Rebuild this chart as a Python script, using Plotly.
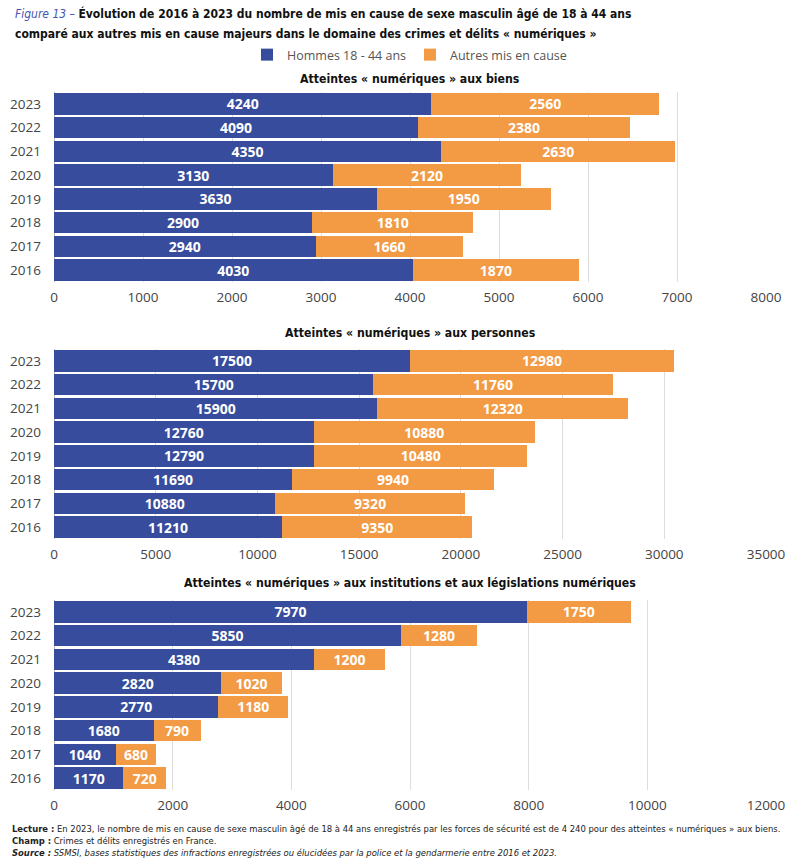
import plotly.graph_objects as go

years = ["2016", "2017", "2018", "2019", "2020", "2021", "2022", "2023"]

biens_hommes = [4030, 2940, 2900, 3630, 3130, 4350, 4090, 4240]
biens_autres = [1870, 1660, 1810, 1950, 2120, 2630, 2380, 2560]

personnes_hommes = [11210, 10880, 11690, 12790, 12760, 15900, 15700, 17500]
personnes_autres = [9350, 9320, 9940, 10480, 10880, 12320, 11760, 12980]

instit_hommes = [1170, 1040, 1680, 2770, 2820, 4380, 5850, 7970]
instit_autres = [720, 680, 790, 1180, 1020, 1200, 1280, 1750]

panel_titles = [
    "Atteintes « numériques » aux biens",
    "Atteintes « numériques » aux personnes",
    "Atteintes « numériques » aux institutions et aux législations numériques",
]
x_ranges = [[0, 8000], [0, 35000], [0, 12000]]
x_dticks = [1000, 5000, 2000]

BLUE = "#374C9C"
ORANGE = "#F39A44"
FONT = "Open Sans"
COND = "DejaVu Sans Condensed, Roboto, sans-serif"

H = 866
def py(px):
    return 1 - px / H

domains = [(282, 92), (539, 349), (790, 600)]
title_y = [79, 333, 583]

fig = go.Figure()
panels = [
    (biens_hommes, biens_autres),
    (personnes_hommes, personnes_autres),
    (instit_hommes, instit_autres),
]
for i, (h, a) in enumerate(panels):
    xa = "x" if i == 0 else f"x{i+1}"
    ya = "y" if i == 0 else f"y{i+1}"
    for vals, name, col, grp in [(h, "Hommes 18 - 44 ans", BLUE, "h"),
                                 (a, "Autres mis en cause", ORANGE, "a")]:
        fig.add_trace(go.Bar(
            y=years, x=vals, orientation="h", name=name,
            marker=dict(color=col, line=dict(width=0)),
            texttemplate="<b>%{x:d}</b>", textposition="inside",
            insidetextanchor="middle", constraintext="none",
            textfont=dict(color="white", size=14, family=FONT),
            xaxis=xa, yaxis=ya, showlegend=(i == 0), legendgroup=grp,
            hoverinfo="skip",
        ))

layout = dict(
    width=797, height=H, barmode="stack", bargap=0.1,
    paper_bgcolor="white", plot_bgcolor="white",
    margin=dict(l=54, r=31, t=0, b=0),
    font=dict(family=FONT, color="#444444"),
    legend=dict(orientation="h", x=0.5, xanchor="center", y=py(55), yanchor="middle",
                font=dict(size=12.5, color="#555555", family=FONT),
                tracegroupgap=0, itemwidth=30, entrywidth=118),
)
for i in range(3):
    sfx = "" if i == 0 else str(i + 1)
    b, t = domains[i]
    layout[f"xaxis{sfx}"] = dict(
        domain=[0, 1], anchor=f"y{sfx}", range=x_ranges[i], dtick=x_dticks[i],
        tickformat="d", automargin=False, ticklabelstandoff=5,
        showgrid=True, gridcolor="#DDDDDD", gridwidth=1, zeroline=True,
        zerolinecolor="#BBBBBB", zerolinewidth=1,
        tickfont=dict(size=13.5, color="#444444"), ticks="", showline=False,
    )
    layout[f"yaxis{sfx}"] = dict(
        domain=[py(b), py(t)], anchor=f"x{sfx}", type="category",
        categoryorder="array", categoryarray=years, automargin=False,
        tickfont=dict(size=13.5, color="#444444"), ticks="", ticklabelstandoff=12,
    )
fig.update_layout(**layout)

for i in range(3):
    fig.add_annotation(
        text=f"<b>{panel_titles[i]}</b>", xref="paper", yref="paper",
        x=0.5, y=py(title_y[i]), xanchor="center", yanchor="middle",
        showarrow=False, font=dict(size=12.2, color="#111111", family=COND),
    )

title_lines = [
    "<i><span style='color:#4A57B0'>Figure 13 –</span></i> <b>Évolution de 2016 à 2023 du nombre de mis en cause de sexe masculin âgé de 18 à 44 ans</b>",
    "<b>comparé aux autres mis en cause majeurs dans le domaine des crimes et délits « numériques »</b>",
]
for ln, yy in zip(title_lines, [14, 34]):
    fig.add_annotation(
        text=ln, xref="paper", yref="paper", x=-41/712, y=py(yy), xanchor="left",
        yanchor="middle", align="left", showarrow=False,
        font=dict(size=12, color="#111111", family=COND),
    )

foot = ("<b>Lecture :</b> En 2023, le nombre de mis en cause de sexe masculin âgé de 18 à 44 ans enregistrés par les forces de sécurité est de 4 240 pour des atteintes « numériques » aux biens."
        "<br><b>Champ :</b> Crimes et délits enregistrés en France."
        "<br><i><b>Source :</b> SSMSI, bases statistiques des infractions enregistrées ou élucidées par la police et la gendarmerie entre 2016 et 2023.</i>")
fig.add_annotation(
    text=foot, xref="paper", yref="paper", x=-44/712, y=py(821), xanchor="left", yanchor="top",
    align="left", showarrow=False, font=dict(size=9.4, color="#222222", family=COND),
)

fig.write_html("out.html", config={"displayModeBar": False},
               post_script="document.body.style.margin='0';")
